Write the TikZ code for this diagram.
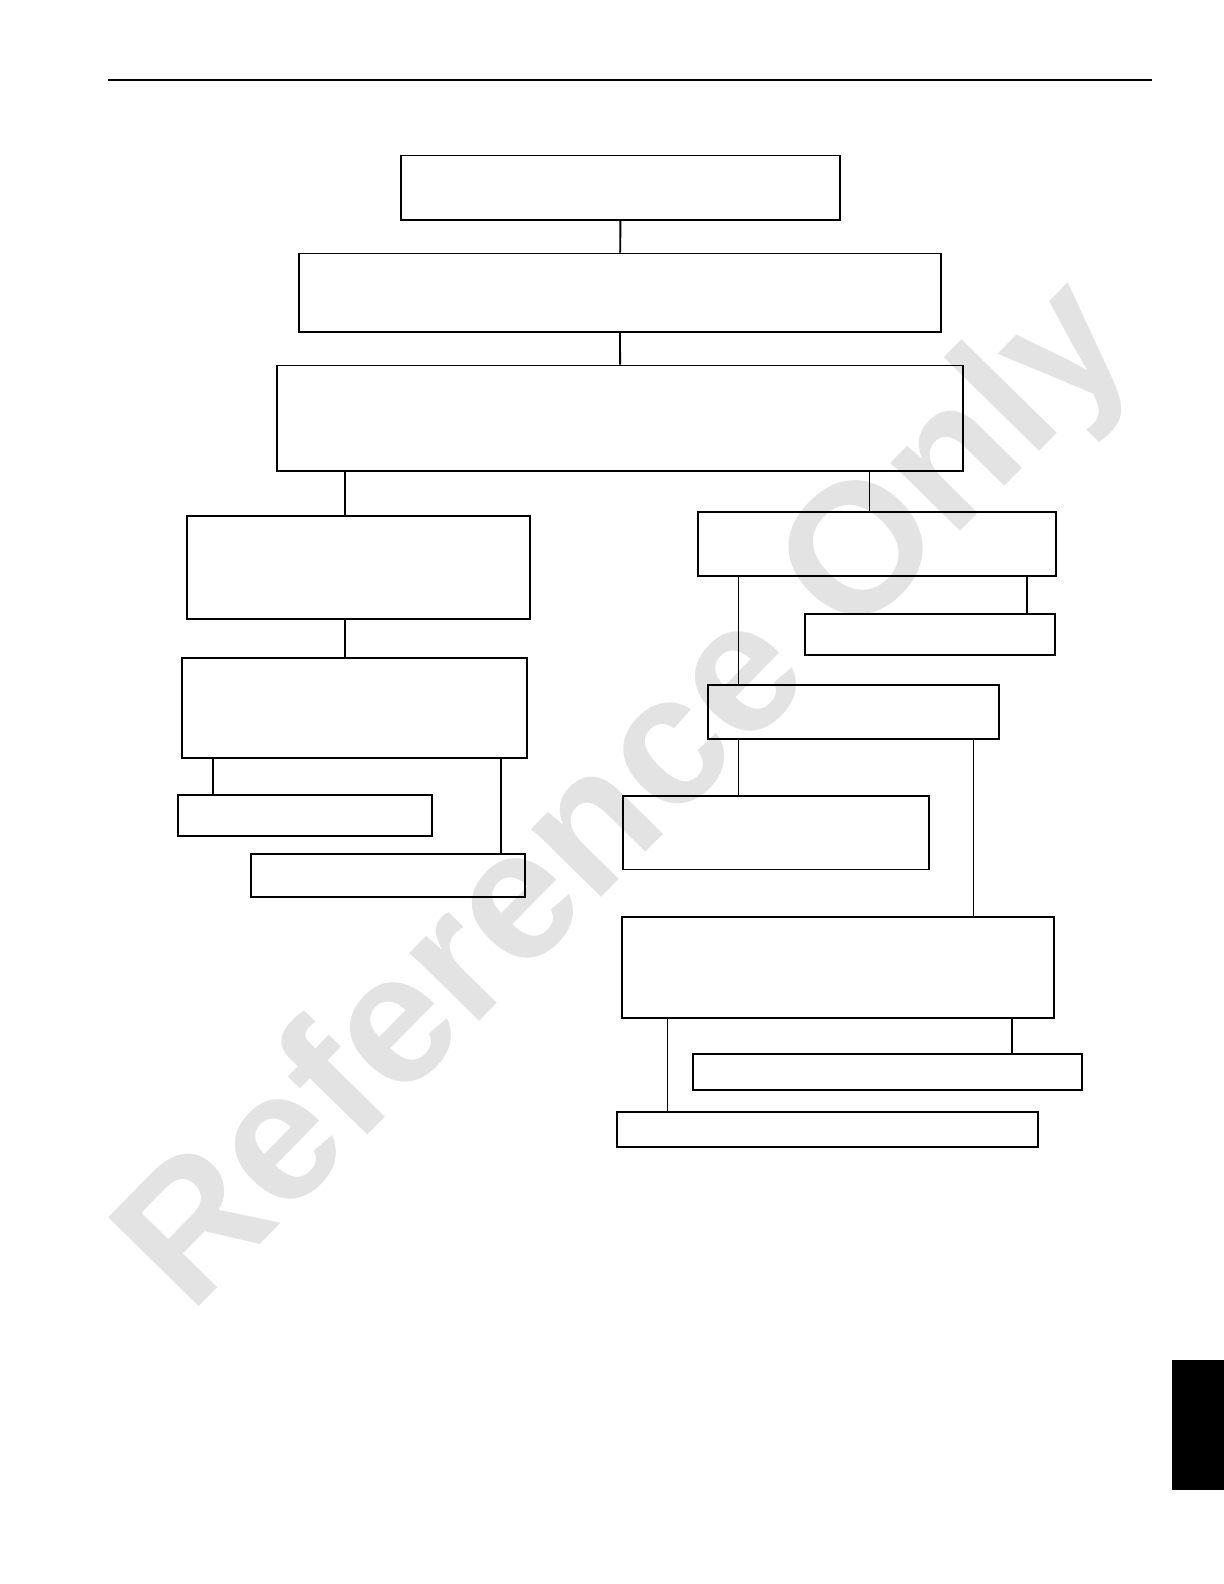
\documentclass[tikz,border=0pt]{standalone}
\usepackage{fontspec}
\setsansfont{Liberation Sans}
\usepackage{tikz}
\usetikzlibrary{calc,positioning}

\tikzset{
    box/.style={draw, line width=1.1pt, inner sep=0pt, anchor=north west},
    link/.style={line width=0.7pt},
    thicklink/.style={line width=1.1pt}
}

\begin{document}
\begin{tikzpicture}[y=-1cm]
    \useasboundingbox (0,0) rectangle (24.48,31.68);

    % watermark
    \node [rotate=45.5, anchor=base west, inner sep=0pt, text=black!11, font=\sffamily\bfseries\fontsize{105}{105}\selectfont] (mark) at (3.80,26.32) {Reference Only};

    % header rule and thumb tab
    \draw [line width=1.1pt] (2.161,1.596) -- (23.046,1.596);
    \fill (23.430,27.207) rectangle (24.48,29.792);

    \node [box, minimum width=8.786cm, minimum height=1.293cm] (top) at (7.998,3.090) {};
    \node [box, minimum width=12.846cm, minimum height=1.575cm] (second) at (5.958,5.050) {};
    \node [box, minimum width=13.735cm, minimum height=2.101cm] (third) at (5.514,7.291) {};

    \node [box, minimum width=6.867cm, minimum height=2.060cm] (left_a) at (3.716,10.301) {};
    \node [box, minimum width=6.908cm, minimum height=2.000cm] (left_b) at (3.615,13.149) {};
    \node [box, minimum width=5.090cm, minimum height=0.828cm] (left_c) at (3.535,15.876) {};
    \node [box, minimum width=5.474cm, minimum height=0.848cm] (left_d) at (5.009,17.067) {};

    \node [box, minimum width=7.170cm, minimum height=1.272cm] (right_a) at (13.937,10.220) {};
    \node [box, minimum width=5.009cm, minimum height=0.828cm] (right_b) at (16.078,12.260) {};
    \node [box, minimum width=5.817cm, minimum height=1.091cm] (right_c) at (14.139,13.674) {};
    \node [box, minimum width=6.120cm, minimum height=1.474cm] (right_d) at (12.442,15.896) {};
    \node [box, minimum width=8.645cm, minimum height=2.020cm] (right_e) at (12.422,18.320) {};
    \node [box, minimum width=7.776cm, minimum height=0.707cm] (right_f) at (13.836,21.067) {};
    \node [box, minimum width=8.423cm, minimum height=0.707cm] (right_g) at (12.321,22.218) {};

    \draw [thicklink] (top) -- (second);
    \draw [thicklink] (second) -- (third);

    \draw [thicklink] ([xshift=3.191cm]left_a.north west) coordinate (la) -- (la |- third.south);
    \draw [thicklink] ([xshift=3.292cm]left_b.north west) coordinate (lb) -- (lb |- left_a.south);
    \draw [link] ([xshift=0.727cm]left_c.north west) coordinate (lc) -- (lc |- left_b.south);
    \draw [link] ([xshift=5.009cm]left_d.north west) coordinate (ld) -- (ld |- left_b.south);

    \draw [link] ([xshift=3.454cm]right_a.north west) coordinate (ra) -- (ra |- third.south);
    \draw [thicklink] ([xshift=4.464cm]right_b.north west) coordinate (rb) -- (rb |- right_a.south);
    \draw [link] ([xshift=0.626cm]right_c.north west) coordinate (rc) -- (rc |- right_a.south);
    \draw [link] ([xshift=2.323cm]right_d.north west) coordinate (rd) -- (rd |- right_c.south);
    \draw [link] ([xshift=7.049cm]right_e.north west) coordinate (re) -- (re |- right_c.south);
    \draw [link] ([xshift=6.403cm]right_f.north west) coordinate (rf) -- (rf |- right_e.south);
    \draw [link] ([xshift=1.030cm]right_g.north west) coordinate (rg) -- (rg |- right_e.south);

\end{tikzpicture}
\end{document}
